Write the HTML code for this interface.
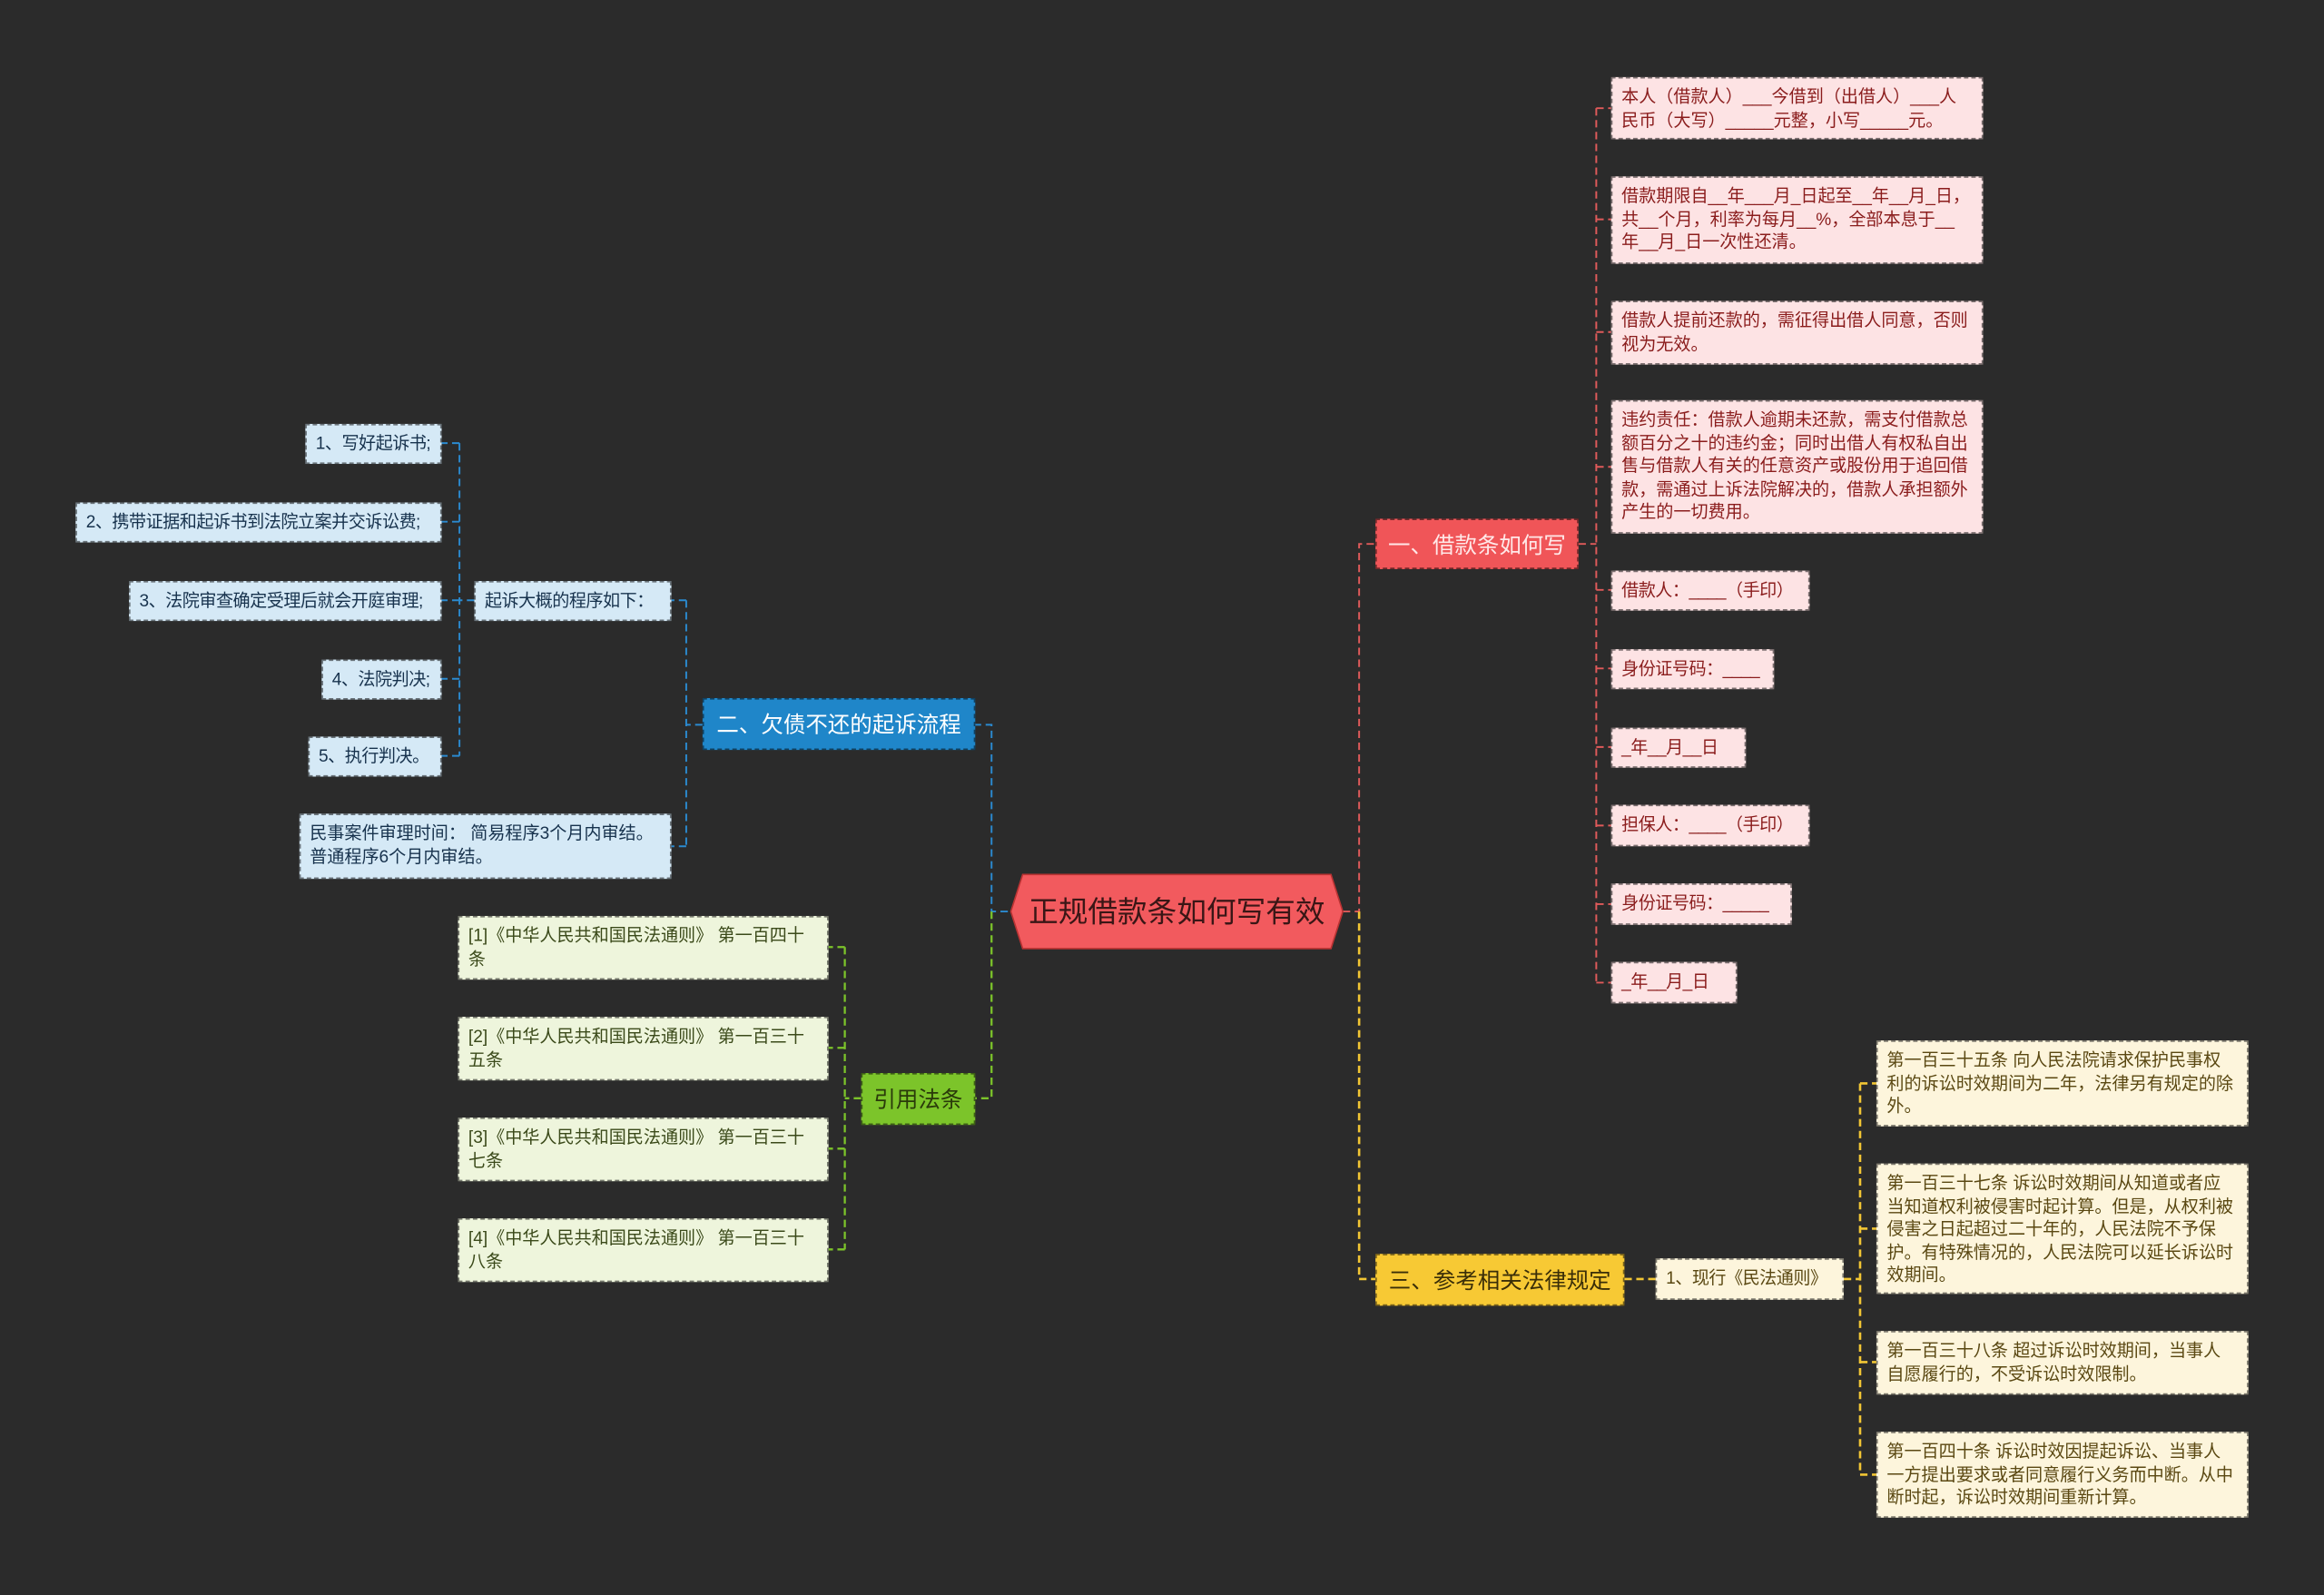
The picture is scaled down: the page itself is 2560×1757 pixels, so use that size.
<!DOCTYPE html>
<html><head><meta charset="utf-8">
<style>
html,body{margin:0;padding:0;background:#2b2b2b;}
body{width:2560px;height:1757px;overflow:hidden;}
#c{position:absolute;left:0;top:0;width:1568px;height:1076px;transform:scale(1.632653);transform-origin:0 0;font-family:"Liberation Sans","Noto Sans CJK SC",sans-serif;}
.n{position:absolute;box-sizing:border-box;font-size:11.7px;line-height:15.5px;padding:5px 7px 5px 6px;border:1px dashed rgba(0,0,0,0.5);white-space:normal;}
.p{background:#fde3e4;color:#8a1c1c;}
.b{background:#d5e9f6;color:#17324d;}
.g{background:#eef5dc;color:#3b4a1a;}
.y{background:#fdf5dc;color:#5a4812;}
.br{position:absolute;box-sizing:border-box;font-size:15px;display:flex;align-items:center;justify-content:center;border:1px dashed rgba(0,0,0,0.5);white-space:nowrap;}
.one{display:flex;align-items:center;white-space:nowrap;padding-top:0;padding-bottom:0;letter-spacing:-0.3px;}
svg{position:absolute;left:0;top:0;}
</style></head><body><div id="c">
<svg width="1568" height="1076" fill="none" stroke-width="1.2" stroke-dasharray="5,3">
<g stroke="#e05a5a">
<path d="M906 615 H917 V367 H928"/>
<path d="M1065 367 H1077"/>
<path d="M1077 73 V663"/>
<path d="M1077 73 H1087 M1077 148 H1087 M1077 224 H1087 M1077 315 H1087 M1077 398 H1087 M1077 451 H1087 M1077 504 H1087 M1077 557 H1087 M1077 610 H1087 M1077 663 H1087"/>
</g>
<g stroke="#f2c634" stroke-width="1.6">
<path d="M917 615 V863 H928"/>
<path d="M1096 863 H1117"/>
<path d="M1244 863 H1255 M1255 731 V995 M1255 731 H1266 M1255 829 H1266 M1255 919 H1266 M1255 995 H1266"/>
</g>
<g stroke="#2b8ad0">
<path d="M680 615 H669 V489 H658"/>
<path d="M474 489 H463 M463 405 V571 M463 405 H453 M463 571 H453"/>
<path d="M320 405 H310 M310 299 V510 M310 299 H298 M310 352 H298 M310 405 H298 M310 458 H298 M310 510 H298"/>
</g>
<g stroke="#7cc42a" stroke-width="1.4">
<path d="M669 615 V741 H658"/>
<path d="M581 741 H570 M570 639 V843 M570 639 H559 M570 707 H559 M570 775 H559 M570 843 H559"/>
</g>
<polygon points="690,590 898,590 906,615 898,640 690,640 682,615" fill="#f25a5e" stroke="#b33" stroke-width="1" stroke-dasharray="none"/>
<text x="794" y="622" font-size="20" fill="#3a1616" text-anchor="middle" stroke="none" font-family="Liberation Sans, Noto Sans CJK SC, sans-serif">正规借款条如何写有效</text>
</svg>

<div class="br" style="left:928px;top:350px;width:137px;height:34px;background:#f05558;color:#ffe8e8;">一、借款条如何写</div>
<div class="n p" style="left:1087px;top:52px;width:251px;height:42px;padding-right:12px;">本人（借款人）___今借到（出借人）___人民币（大写）_____元整，小写_____元。</div>
<div class="n p" style="left:1087px;top:119px;width:251px;height:59px;">借款期限自__年___月_日起至__年__月_日，共__个月，利率为每月__%，全部本息于__年__月_日一次性还清。</div>
<div class="n p" style="left:1087px;top:203px;width:251px;height:43px;">借款人提前还款的，需征得出借人同意，否则视为无效。</div>
<div class="n p" style="left:1087px;top:270px;width:251px;height:90px;">违约责任：借款人逾期未还款，需支付借款总额百分之十的违约金；同时出借人有权私自出售与借款人有关的任意资产或股份用于追回借款，需通过上诉法院解决的，借款人承担额外产生的一切费用。</div>
<div class="n p one" style="left:1087px;top:385px;width:134px;height:27px;">借款人：____（手印）</div>
<div class="n p one" style="left:1087px;top:438px;width:110px;height:27px;">身份证号码：____</div>
<div class="n p one" style="left:1087px;top:491px;width:91px;height:27px;">_年__月__日</div>
<div class="n p one" style="left:1087px;top:543px;width:134px;height:28px;">担保人：____（手印）</div>
<div class="n p one" style="left:1087px;top:596px;width:122px;height:28px;">身份证号码：_____</div>
<div class="n p one" style="left:1087px;top:649px;width:85px;height:28px;">_年__月_日</div>

<div class="br" style="left:928px;top:846px;width:168px;height:35px;background:#f7c934;color:#3a2e08;">三、参考相关法律规定</div>
<div class="n y one" style="left:1117px;top:849px;width:127px;height:28px;">1、现行《民法通则》</div>
<div class="n y" style="left:1266px;top:702px;width:251px;height:58px;padding-right:9px;">第一百三十五条 向人民法院请求保护民事权利的诉讼时效期间为二年，法律另有规定的除外。</div>
<div class="n y" style="left:1266px;top:785px;width:251px;height:88px;padding-right:9px;">第一百三十七条 诉讼时效期间从知道或者应当知道权利被侵害时起计算。但是，从权利被侵害之日起超过二十年的，人民法院不予保护。有特殊情况的，人民法院可以延长诉讼时效期间。</div>
<div class="n y" style="left:1266px;top:898px;width:251px;height:43px;padding-right:9px;">第一百三十八条 超过诉讼时效期间，当事人自愿履行的，不受诉讼时效限制。</div>
<div class="n y" style="left:1266px;top:966px;width:251px;height:58px;padding-right:9px;">第一百四十条 诉讼时效因提起诉讼、当事人一方提出要求或者同意履行义务而中断。从中断时起，诉讼时效期间重新计算。</div>

<div class="br" style="left:474px;top:471px;width:184px;height:35px;background:#1f86c9;color:#fff;">二、欠债不还的起诉流程</div>
<div class="n b one" style="left:320px;top:392px;width:133px;height:27px;">起诉大概的程序如下：</div>
<div class="n b" style="left:202px;top:549px;width:251px;height:44px;">民事案件审理时间： 简易程序3个月内审结。普通程序6个月内审结。</div>
<div class="n b one" style="left:206px;top:286px;width:92px;height:27px;">1、写好起诉书;</div>
<div class="n b one" style="left:51px;top:339px;width:247px;height:27px;">2、携带证据和起诉书到法院立案并交诉讼费;</div>
<div class="n b one" style="left:87px;top:392px;width:211px;height:27px;">3、法院审查确定受理后就会开庭审理;</div>
<div class="n b one" style="left:217px;top:445px;width:81px;height:27px;">4、法院判决;</div>
<div class="n b one" style="left:208px;top:497px;width:90px;height:27px;">5、执行判决。</div>

<div class="br" style="left:581px;top:724px;width:77px;height:35px;background:#7cc42a;color:#2a3a0a;">引用法条</div>
<div class="n g" style="left:309px;top:618px;width:250px;height:43px;">[1]《中华人民共和国民法通则》 第一百四十条</div>
<div class="n g" style="left:309px;top:686px;width:250px;height:43px;">[2]《中华人民共和国民法通则》 第一百三十五条</div>
<div class="n g" style="left:309px;top:754px;width:250px;height:43px;">[3]《中华人民共和国民法通则》 第一百三十七条</div>
<div class="n g" style="left:309px;top:822px;width:250px;height:43px;">[4]《中华人民共和国民法通则》 第一百三十八条</div>
</div></body></html>
